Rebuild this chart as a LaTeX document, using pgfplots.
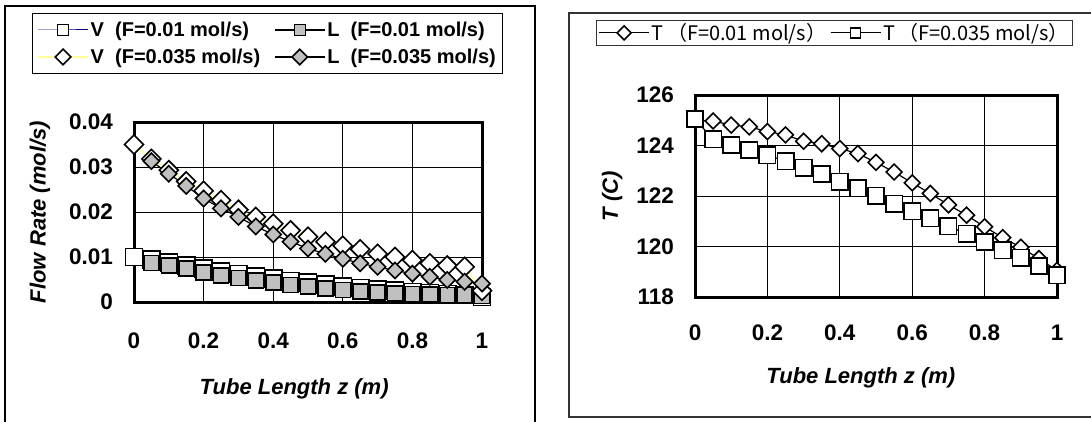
\documentclass[border=0pt]{standalone}
\usepackage{fontspec}
\setmainfont{Liberation Sans}
\newfontfamily\cjk{Noto Sans CJK JP}
\usepackage{pgfplots}
\pgfplotsset{compat=1.18}
\definecolor{navyline}{RGB}{0,0,128}
\definecolor{yel}{RGB}{255,255,153}
\definecolor{gr}{RGB}{192,192,192}
\begin{document}
\begin{tikzpicture}
\useasboundingbox (0,0) rectangle (1091pt,421pt);
\draw[line width=1.2pt] (5pt,-5pt) rectangle (535pt,415pt);
\draw[line width=1.2pt,black!80] (569pt,4pt) rectangle (1096pt,408pt);
\pgfplotsset{
  myaxis/.style={
    scale only axis, anchor=south west,
    axis line style={line width=3pt},
    grid=major, major grid style={black, line width=0.8pt},
    tickwidth=0pt,
    xmin=0, xmax=1,
    xtick={0,0.2,0.4,0.6,0.8,1},
    xticklabels={0,0.2,0.4,0.6,0.8,1},
    scaled y ticks=false, scaled x ticks=false,
    /pgf/number format/assume math mode=true,
    ticklabel style={font=\fontsize{22.5}{24}\selectfont\bfseries},
    yticklabel style={inner sep=0pt, anchor=east, xshift=-21pt},
    label style={font=\fontsize{22}{24}\selectfont\bfseries\itshape},
    legend cell align=left,
    clip=false,
  }
}
% ---------- left ----------
\begin{axis}[myaxis,
  at={(134pt,119pt)}, width=348pt, height=180pt,
  ymin=0, ymax=0.04,
  ytick={0,0.01,0.02,0.03,0.04},
  yticklabels={0,0.01,0.02,0.03,0.04},
  xticklabel style={inner sep=0pt, anchor=north, yshift=-31pt},
  xlabel={Tube Length z (m)},
  xlabel style={at={(axis description cs:0.46,-0.48)}, anchor=center},
  ylabel={Flow Rate (mol/s)},
  ylabel style={at={(axis description cs:-0.27,0.5)}, anchor=center, rotate=0},
  legend columns=2,
  legend style={at={(axis description cs:-0.2931,1.6056)}, anchor=north west,
    draw=black, line width=1pt, inner xsep=5pt, inner ysep=6.5pt,
    font=\fontsize{20}{22}\selectfont\bfseries, row sep=7pt,
    /tikz/every even column/.append style={column sep=12pt}},
  legend image code/.code={\draw[mark repeat=2,mark phase=2,#1] plot coordinates {(0pt,0pt) (25pt,0pt) (50pt,0pt)};},
  legend image post style={mark size=5.5pt},
]
\addplot[navyline, line width=1pt, mark=square*, mark size=8.5pt,
  mark options={fill=white, draw=black, line width=1.6pt}] coordinates {
(0,0.0100) (0.05,0.0094) (0.1,0.0088) (0.15,0.0081) (0.2,0.0074) (0.25,0.0068)
(0.3,0.0062) (0.35,0.0057) (0.4,0.0052) (0.45,0.0047) (0.5,0.0043) (0.55,0.0039)
(0.6,0.0035) (0.65,0.0031) (0.7,0.0028) (0.75,0.0025) (0.8,0.0022) (0.85,0.0020)
(0.9,0.0018) (0.95,0.0016) (1,0.0011)};
\addlegendentry{V\ \ (F=0.01 mol/s)}
\addplot[black, line width=1.2pt, mark=square*, mark size=7.5pt,
  mark options={fill=gr, draw=black, line width=1.6pt}] coordinates {
(0.05,0.0087) (0.1,0.0081) (0.15,0.0074) (0.2,0.0066) (0.25,0.0059)
(0.3,0.0053) (0.35,0.0048) (0.4,0.0043) (0.45,0.0038) (0.5,0.0034) (0.55,0.0030)
(0.6,0.0027) (0.65,0.0024) (0.7,0.0021) (0.75,0.0019) (0.8,0.0018) (0.85,0.0017)
(0.9,0.0016) (0.95,0.0016) (1,0.0013)};
\addlegendentry{L\ \ (F=0.01 mol/s)}
\addplot[yel, line width=1.2pt, mark=square*, mark size=6.7pt,
  mark options={fill=white, draw=black, line width=1.6pt, rotate=45}] coordinates {
(0,0.0350) (0.05,0.0318) (0.1,0.0293) (0.15,0.0268) (0.2,0.0247) (0.25,0.0226)
(0.3,0.0205) (0.35,0.0189) (0.4,0.0174) (0.45,0.0159) (0.5,0.0145) (0.55,0.0134)
(0.6,0.0125) (0.65,0.0117) (0.7,0.0107) (0.75,0.0100) (0.8,0.0093) (0.85,0.0086)
(0.9,0.0081) (0.95,0.0078) (1,0.0025)};
\addlegendentry{V\ \ (F=0.035 mol/s)}
\addplot[black, line width=1.2pt, mark=square*, mark size=5.7pt,
  mark options={fill=gr, draw=black, line width=1.6pt, rotate=45}] coordinates {
(0.05,0.0313) (0.1,0.0285) (0.15,0.0258) (0.2,0.0230) (0.25,0.0208)
(0.3,0.0189) (0.35,0.0168) (0.4,0.0150) (0.45,0.0134) (0.5,0.0119) (0.55,0.0107)
(0.6,0.0096) (0.65,0.0086) (0.7,0.0078) (0.75,0.0070) (0.8,0.0063) (0.85,0.0056)
(0.9,0.0049) (0.95,0.0045) (1,0.0041)};
\addlegendentry{L\ \ (F=0.035 mol/s)}
\end{axis}
% ---------- right ----------
\begin{axis}[myaxis,
  at={(695pt,124pt)}, width=362pt, height=202pt,
  ymin=118, ymax=126,
  ytick={118,120,122,124,126},
  yticklabels={118,120,122,124,126},
  xticklabel style={inner sep=0pt, anchor=north, yshift=-28pt},
  xlabel={Tube Length z (m)},
  xlabel style={at={(axis description cs:0.458,-0.40)}, anchor=center},
  ylabel={T (C)},
  ylabel style={at={(axis description cs:-0.229,0.5)}, anchor=center, rotate=0},
  legend columns=2,
  legend style={at={(axis description cs:-0.2735,1.371)}, anchor=north west,
    draw=black!80, line width=1pt, inner xsep=2pt, inner ysep=1pt,
    font=\fontsize{20}{22}\selectfont\cjk,
    /tikz/every even column/.append style={column sep=2pt}},
  legend image code/.code={\draw[mark repeat=2,mark phase=2,#1] plot coordinates {(0pt,0pt) (25pt,0pt) (50pt,0pt)};},
  legend image post style={mark size=5pt},
]
\addplot[black, line width=1.2pt, mark=square*, mark size=5.6pt,
  mark options={fill=white, draw=black, line width=1.6pt, rotate=45}] coordinates {
(0,125.0) (0.05,124.97) (0.1,124.81) (0.15,124.74) (0.2,124.55) (0.25,124.42)
(0.3,124.17) (0.35,124.07) (0.4,123.88) (0.45,123.68) (0.5,123.33) (0.55,122.95)
(0.6,122.52) (0.65,122.10) (0.7,121.65) (0.75,121.24) (0.8,120.78) (0.85,120.35)
(0.9,119.97) (0.95,119.52) (1,119.05)};
\addlegendentry{T\,（F=0.01 mol/s）}
\addplot[black, line width=1.2pt, mark=square*, mark size=8.2pt,
  mark options={fill=white, draw=black, line width=1.6pt}] coordinates {
(0,125.05) (0.05,124.24) (0.1,124.02) (0.15,123.82) (0.2,123.62) (0.25,123.38)
(0.3,123.12) (0.35,122.87) (0.4,122.56) (0.45,122.30) (0.5,122.01) (0.55,121.70)
(0.6,121.40) (0.65,121.11) (0.7,120.80) (0.75,120.51) (0.8,120.18) (0.85,119.85)
(0.9,119.56) (0.95,119.23) (1,118.86)};
\addlegendentry{T\,（F=0.035 mol/s）}
\end{axis}
\end{tikzpicture}
\end{document}
